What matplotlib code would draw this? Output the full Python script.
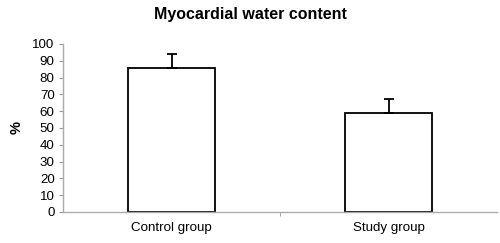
import matplotlib.pyplot as plt
import numpy as np

plt.rcParams['font.family'] = ['Liberation Sans', 'DejaVu Sans']

# dados
groups = ['Control group', 'Study group']
water = [85.5, 59]
sd = [8.5, 8.3]

fig = plt.figure(figsize=(5, 2.43), dpi=100)
ax = fig.add_axes([0.126, 0.128, 0.868, 0.691])

x = np.arange(len(groups))
ax.bar(x, water, width=0.4, color='white', edgecolor='black', linewidth=1.3, zorder=2)
ax.errorbar(x, water, yerr=[np.zeros(len(sd)), sd], fmt='none', ecolor='black',
            elinewidth=1.3, capsize=3.5, capthick=1.3, zorder=3)

ax.set_xlim(-0.5, len(groups) - 0.5)
ax.set_ylim(0, 100)
ax.set_yticks(np.arange(0, 101, 10))
ax.set_xticks(x)
ax.set_xticklabels(groups, fontsize=9.6)
ax.tick_params(axis='x', length=0, pad=7)
ax.tick_params(axis='y', labelsize=9.6, length=3, color='#999999', pad=3)
# tick entre as categorias
ax.set_xticks([0.5], minor=True)
ax.tick_params(axis='x', which='minor', length=3, color='#999999')

for s in ['top', 'right']:
    ax.spines[s].set_visible(False)
for s in ['left', 'bottom']:
    ax.spines[s].set_color('#aaaaaa')
    ax.spines[s].set_linewidth(1.0)

ax.set_ylabel('%', fontsize=10.5, fontweight='bold', labelpad=6)
fig.suptitle('Myocardial water content', fontsize=11.5, fontweight='bold', x=0.5, y=0.97)

plt.savefig('out.png', dpi=100)
